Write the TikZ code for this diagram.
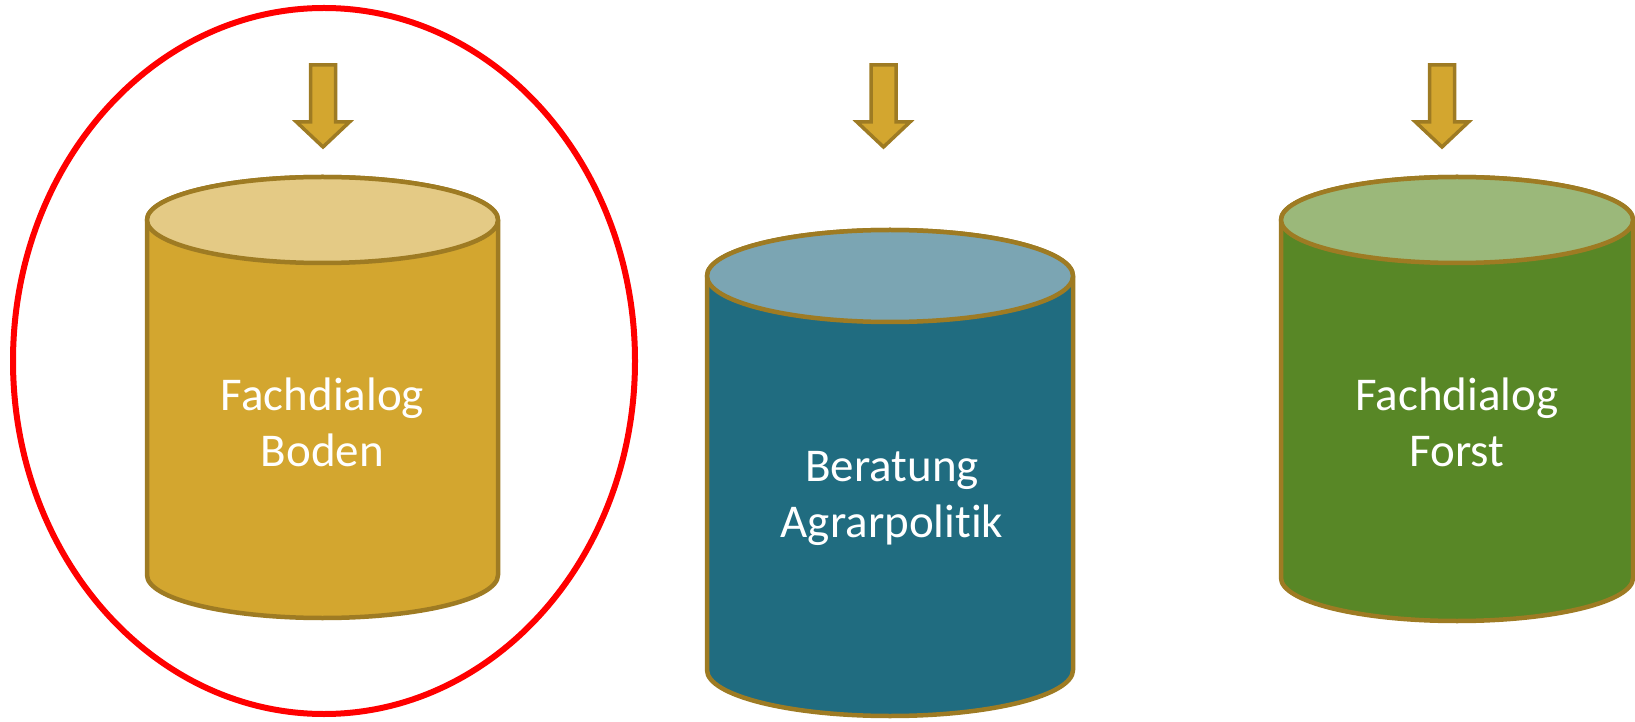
\documentclass[tikz,border=0pt]{standalone}
\usepackage{fontspec}
\setmainfont{Carlito}[RawFeature={-liga,-clig,-dlig,-rlig,-calt}]
\definecolor{edge}{HTML}{9E7B23}
\definecolor{goldbody}{HTML}{D3A62F}
\definecolor{goldtop}{HTML}{E4CA85}
\definecolor{tealbody}{HTML}{206C80}
\definecolor{tealtop}{HTML}{7BA5B3}
\definecolor{greenbody}{HTML}{588726}
\definecolor{greentop}{HTML}{9BB87A}
\tikzset{
  cylline/.style={draw=edge, line width=4.5pt, line join=round},
  arrowshape/.style={draw=edge, fill=goldbody, line width=3.5pt, line join=miter},
  label/.style={text=white, align=center, font=\fontsize{47}{56}\selectfont},
  ring/.style={draw=red, line width=6pt}
}
\begin{document}
\begin{tikzpicture}[x=1pt,y=1pt]
\useasboundingbox (0,0) rectangle (1635,721);
% red ellipse
\draw[ring] (324,360) ellipse [x radius=311, y radius=353];
% cylinder 1
\path[cylline, fill=goldbody] (147,501) -- (147,146) arc[start angle=180, end angle=360, x radius=175.5, y radius=43] -- (498,501) arc[start angle=0, end angle=180, x radius=175.5, y radius=43] -- cycle;
\path[cylline, fill=goldtop] (322.5,501) ellipse [x radius=175.5, y radius=43];
\node[label] (boden) at (322.5,299) {Fachdialog\\Boden};
% cylinder 2
\path[cylline, fill=tealbody] (707,445) -- (707,51) arc[start angle=180, end angle=360, x radius=183, y radius=46] -- (1073,445) arc[start angle=0, end angle=180, x radius=183, y radius=46] -- cycle;
\path[cylline, fill=tealtop] (890,445) ellipse [x radius=183, y radius=46];
\node[label] (agrar) at (892,223) {Beratung\\Agrarpolit\kern0pt ik};
% cylinder 3
\path[cylline, fill=greenbody] (1281,501) -- (1281,143) arc[start angle=180, end angle=360, x radius=176, y radius=43] -- (1633,501) arc[start angle=0, end angle=180, x radius=176, y radius=43] -- cycle;
\path[cylline, fill=greentop] (1457,501) ellipse [x radius=176, y radius=43];
\node[label] (forst) at (1457,299) {Fachdialog\\Forst};
% arrows
\foreach \ax/\nm in {323/a1, 883.5/a2, 1442/a3}{
  \draw[arrowshape] (\ax-12.5,656) -- (\ax+12.5,656) -- (\ax+12.5,599) -- (\ax+26.5,599) -- (\ax,574) -- (\ax-26.5,599) -- (\ax-12.5,599) -- cycle;
}
\end{tikzpicture}
\end{document}
